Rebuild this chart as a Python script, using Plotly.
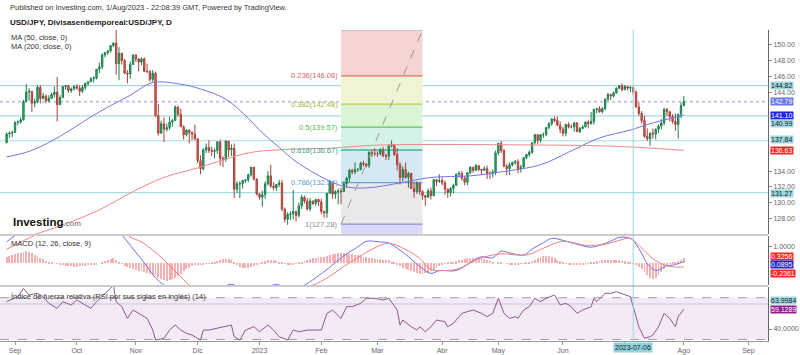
import pandas as pd
import plotly.graph_objects as go

# ------------------------------------------------------------------ data
start_date = "2022-08-29"
end_date = "2023-08-01"
axis_end_date = "2023-09-29"

# daily USD/JPY candles (Aug-29-2022 .. Aug-01-2023), one value per trading day
open_ = [
    137.6, 138.7, 138.8,
    138.9, 140.2, 140.2, 140.5, 142.8, 144.0, 144.1, 142.6, 142.8, 144.6, 143.2, 143.5, 142.9, 143.2, 143.7, 144.0, 142.4, 143.3, 144.7, 144.8, 144.2, 144.4,
    144.7, 144.5, 144.1, 144.6, 145.1, 145.3, 145.7, 145.8, 146.9, 147.2, 148.7, 149.0, 149.2, 149.9, 150.2, 147.6, 148.9, 148.0, 146.4, 146.3, 147.5,
    148.7, 148.2, 147.8, 148.2, 146.6, 146.6, 145.6, 146.4, 141.0, 138.8, 140.0, 139.3, 139.5, 140.2, 140.4, 142.1, 141.2, 139.6, 138.6, 139.2, 138.9, 138.7,
    138.1, 135.3, 134.3, 136.7, 137.0, 136.6, 136.5, 136.6, 137.7, 135.6, 135.5, 137.8, 136.7, 136.9, 131.7, 132.4, 132.4, 132.8, 132.9, 133.5, 134.5, 133.0,
    131.1, 130.7, 131.0, 132.4, 133.4, 132.1, 131.9, 132.3, 132.5, 129.2, 127.9, 128.5, 128.6, 128.9, 128.4, 129.6, 130.7, 130.2, 129.2, 130.2, 129.9, 130.4,
    130.1, 128.9, 128.7, 131.2, 132.6, 131.1, 131.4, 131.5, 131.4, 132.4, 133.1, 134.1, 133.9, 134.2, 134.2, 135.0, 134.9, 134.7, 136.4, 136.2,
    136.2, 136.2, 136.7, 135.9, 135.9, 137.2, 137.3, 136.1, 134.8, 133.2, 134.2, 133.2, 133.7, 131.8, 131.4, 132.5, 131.4, 130.9, 130.7, 131.5, 130.9, 132.9, 132.7,
    132.8, 132.5, 131.7, 131.3, 131.8, 132.2, 133.6, 133.7, 133.1, 132.6, 133.8, 134.5, 134.1, 134.7, 134.2, 134.1, 134.3, 133.7, 133.7, 133.9,
    136.3, 137.5, 136.6, 134.6, 134.3, 134.8, 135.1, 135.2, 134.3, 134.5, 135.7, 136.1, 136.4, 137.6, 138.6, 137.9, 138.6, 138.6, 139.5, 140.0, 140.6, 140.4, 139.8,
    139.3, 138.8, 139.9, 139.6, 139.6, 140.1, 139.0, 139.4, 139.6, 140.2, 140.0, 140.3, 141.8, 141.9, 141.5, 141.9, 143.1, 143.7, 143.5, 143.9, 144.5, 144.8,
    144.3, 144.7, 144.5, 144.6, 144.0, 142.1, 141.3, 140.4, 138.4, 138.1, 138.8, 138.7, 139.3, 139.7, 140.1, 141.8, 141.5, 140.9, 140.3, 139.9, 141.2,
    142.3,
]
high = [
    138.9, 139.0, 139.1,
    140.2, 140.4, 140.8, 143.0, 145.0, 144.5, 144.1, 143.2, 144.9, 144.9, 143.9, 143.7, 143.6, 143.9, 144.7, 145.9, 143.6, 144.8, 144.9, 144.9, 144.6, 144.9,
    145.0, 144.9, 144.9, 145.2, 145.4, 145.9, 146.0, 146.9, 147.7, 148.9, 149.1, 149.3, 149.9, 150.3, 151.9, 149.7, 149.0, 148.2, 146.8, 147.9, 148.8,
    148.8, 148.3, 148.4, 148.4, 147.6, 146.8, 146.8, 146.6, 142.5, 140.4, 140.8, 140.0, 140.9, 140.6, 142.3, 142.2, 141.9, 139.8, 139.3, 139.2, 139.0, 139.9,
    138.1, 136.0, 136.9, 137.5, 137.9, 137.1, 136.9, 137.8, 138.0, 135.9, 137.9, 137.8, 137.4, 137.5, 132.7, 132.7, 132.9, 133.0, 133.7, 134.5, 134.5, 133.1,
    131.2, 131.5, 132.7, 134.0, 134.8, 132.6, 132.4, 132.9, 132.9, 129.4, 128.8, 128.9, 131.6, 128.9, 130.0, 131.0, 130.9, 130.6, 130.6, 130.3, 130.5, 130.5,
    130.5, 129.0, 131.2, 132.9, 132.6, 131.6, 131.8, 131.9, 132.7, 133.3, 134.3, 134.3, 135.1, 134.4, 135.2, 135.3, 135.0, 136.5, 136.7, 136.9,
    136.5, 136.9, 137.1, 136.2, 137.4, 137.9, 137.4, 136.9, 135.1, 134.6, 135.1, 133.9, 133.8, 132.6, 132.7, 132.6, 131.6, 131.0, 131.8, 131.9, 133.0, 133.0, 133.6,
    133.2, 132.8, 131.8, 132.0, 132.4, 133.7, 134.0, 134.0, 133.4, 133.8, 134.6, 134.5, 134.9, 134.8, 134.3, 134.6, 134.7, 134.0, 134.2, 136.6,
    137.6, 137.8, 136.8, 134.9, 135.1, 135.2, 135.4, 135.5, 134.8, 135.8, 136.2, 136.6, 137.6, 138.7, 138.7, 138.7, 138.9, 139.6, 140.2, 140.7, 140.9, 140.9, 140.3,
    139.6, 140.0, 140.2, 139.9, 140.2, 140.2, 139.6, 139.8, 140.3, 140.5, 141.5, 141.9, 142.0, 142.2, 142.1, 143.2, 143.9, 143.7, 144.1, 144.6, 144.9, 145.1,
    144.9, 144.7, 144.7, 144.7, 144.2, 142.7, 141.6, 141.0, 139.4, 138.9, 139.4, 139.4, 139.9, 140.6, 142.0, 142.0, 141.6, 141.2, 141.3, 141.2, 142.7,
    143.5,
]
low = [
    137.5, 138.2, 138.3,
    138.9, 139.8, 140.0, 140.4, 142.8, 142.9, 141.5, 142.1, 142.6, 142.6, 143.1, 142.6, 142.7, 143.2, 143.3, 140.3, 142.4, 143.3, 144.3, 143.9, 143.9, 144.2,
    144.3, 143.5, 143.9, 144.3, 144.8, 145.3, 145.2, 145.6, 146.4, 146.9, 148.4, 148.7, 149.0, 149.7, 146.2, 145.5, 147.5, 146.3, 145.1, 145.7, 147.5,
    147.8, 146.6, 147.4, 146.6, 146.4, 145.3, 145.3, 140.9, 138.5, 138.8, 137.7, 139.0, 139.2, 139.6, 140.4, 140.9, 139.6, 138.0, 138.4, 137.5, 137.9, 137.9,
    135.0, 133.6, 134.1, 136.3, 136.3, 135.9, 135.6, 136.2, 134.7, 134.5, 135.2, 135.8, 135.9, 130.6, 131.2, 130.6, 131.8, 132.5, 132.6, 133.3, 132.8, 130.9,
    130.4, 129.5, 130.5, 132.2, 131.9, 131.6, 131.5, 132.0, 128.9, 127.5, 127.2, 127.8, 127.9, 127.6, 128.1, 129.2, 129.9, 129.0, 128.9, 129.7, 129.6, 129.6,
    128.5, 128.1, 128.1, 131.2, 130.5, 130.5, 129.8, 129.8, 131.4, 131.9, 132.6, 133.6, 133.6, 133.9, 134.1, 134.6, 134.5, 134.4, 135.8, 135.9,
    135.8, 136.0, 135.8, 135.4, 135.4, 137.0, 135.9, 134.1, 132.3, 132.7, 133.0, 131.9, 131.8, 130.6, 131.1, 131.0, 130.4, 129.6, 130.6, 130.4, 130.8, 132.1, 132.5,
    132.2, 131.0, 130.6, 130.8, 131.2, 132.1, 133.2, 132.8, 132.2, 132.2, 133.6, 133.8, 134.0, 134.0, 133.5, 134.1, 133.0, 133.0, 133.2, 133.5,
    136.0, 136.3, 134.5, 133.5, 133.5, 134.6, 134.8, 133.7, 133.8, 134.4, 135.5, 135.8, 136.2, 137.4, 137.4, 137.6, 138.2, 138.4, 139.3, 139.7, 140.2, 139.7, 138.8,
    138.4, 138.4, 139.4, 139.4, 139.0, 138.9, 138.8, 139.3, 139.5, 139.4, 139.9, 139.9, 141.3, 141.4, 141.3, 141.7, 142.9, 143.0, 143.3, 143.8, 144.4, 144.1,
    144.3, 144.2, 144.0, 143.6, 142.1, 141.0, 140.0, 138.2, 137.8, 137.2, 138.1, 138.0, 138.8, 139.3, 139.8, 141.0, 140.3, 140.0, 139.1, 138.1, 140.7,
    142.2,
]
close = [
    138.7, 138.8, 138.9,
    140.2, 140.2, 140.5, 142.8, 144.0, 144.1, 142.6, 142.8, 144.6, 143.2, 143.5, 142.9, 143.2, 143.7, 144.0, 142.4, 143.3, 144.7, 144.8, 144.2, 144.4, 144.7,
    144.5, 144.1, 144.6, 145.1, 145.3, 145.7, 145.8, 146.9, 147.2, 148.7, 149.0, 149.2, 149.9, 150.2, 147.6, 148.9, 148.0, 146.4, 146.3, 147.5, 148.7,
    148.2, 147.8, 148.2, 146.6, 146.6, 145.6, 146.4, 141.0, 138.8, 140.0, 139.3, 139.5, 140.2, 140.4, 142.1, 141.2, 139.6, 138.6, 139.2, 138.9, 138.7, 138.1,
    135.3, 134.3, 136.7, 137.0, 136.6, 136.5, 136.6, 137.7, 135.6, 135.5, 137.8, 136.7, 136.9, 131.7, 132.4, 132.4, 132.8, 132.9, 133.5, 134.5, 133.0, 131.1,
    130.7, 131.0, 132.4, 133.4, 132.1, 131.9, 132.3, 132.5, 129.2, 127.9, 128.5, 128.6, 128.9, 128.4, 129.6, 130.7, 130.2, 129.2, 130.2, 129.9, 130.4, 130.1,
    128.9, 128.7, 131.2, 132.6, 131.1, 131.4, 131.5, 131.4, 132.4, 133.1, 134.1, 133.9, 134.2, 134.2, 135.0, 134.9, 134.7, 136.4, 136.2, 136.2,
    136.2, 136.7, 135.9, 135.9, 137.2, 137.3, 136.1, 134.8, 133.2, 134.2, 133.2, 133.7, 131.8, 131.4, 132.5, 131.4, 130.9, 130.7, 131.5, 130.9, 132.9, 132.7, 132.8,
    132.5, 131.7, 131.3, 131.8, 132.2, 133.6, 133.7, 133.1, 132.6, 133.8, 134.5, 134.1, 134.7, 134.2, 134.1, 134.3, 133.7, 133.7, 133.9, 136.3,
    137.5, 136.6, 134.6, 134.3, 134.8, 135.1, 135.2, 134.3, 134.5, 135.7, 136.1, 136.4, 137.6, 138.6, 137.9, 138.6, 138.6, 139.5, 140.0, 140.6, 140.4, 139.8, 139.3,
    138.8, 139.9, 139.6, 139.6, 140.1, 139.0, 139.4, 139.6, 140.2, 140.0, 140.3, 141.8, 141.9, 141.5, 141.9, 143.1, 143.7, 143.5, 143.9, 144.5, 144.8, 144.3,
    144.7, 144.5, 144.6, 144.0, 142.1, 141.3, 140.4, 138.4, 138.1, 138.8, 138.7, 139.3, 139.7, 140.1, 141.8, 141.5, 140.9, 140.3, 139.9, 141.2, 142.3,
    142.79,
]

# moving averages (bar index, value)
ma50_bar = [0, 8, 17, 33, 44, 52, 62, 69, 78, 86, 90, 97, 103, 114, 121, 129, 140, 151, 165, 176, 190, 200, 211, 222, 229, 241]
ma50_val = [135.8, 136.5, 138.0, 141.5, 143.6, 145.2, 145.0, 144.4, 143.1, 140.7, 139.2, 137.0, 135.2, 132.9, 132.0, 131.9, 132.5, 133.2, 133.4, 133.9, 134.8, 136.4, 138.2, 139.2, 140.0, 141.10]
ma200_bar = [0, 11, 23, 33, 45, 56, 68, 86, 97, 115, 133, 190, 211, 225, 241]
ma200_val = [125.0, 126.1, 127.6, 129.1, 131.4, 133.2, 134.4, 136.3, 136.7, 136.9, 137.3, 137.3, 137.2, 137.0, 136.63]

# Fibonacci retracement (Oct-22 high -> Jan-23 low)
fib_start_bar = 119
fib_end_bar = 148
fib_levels = ["0", "0.236", "0.382", "0.5", "0.618", "0.786", "1"]
fib_prices = [151.86, 146.06, 142.48, 139.57, 136.67, 132.54, 127.28]

# horizontal reference lines
hlines = [144.82, 140.99, 137.84, 131.27]
last_price = 142.79
marked_bar = 223  # 2023-07-06

# MACD (12, 26, close, 9)
hist_val = [
    0.38, 0.45, 0.5, 0.55, 0.6, 0.65, 0.7, 0.72, 0.7, 0.62, 0.52, 0.42, 0.33, 0.25, 0.15, 0.08, 0.03, 0.0, -0.04, -0.08,
    -0.12, -0.15, -0.18, -0.2, -0.22, -0.22, -0.2, -0.18, -0.16, -0.14, -0.12, -0.1, -0.06, 0.0, 0.08, 0.15, 0.22, 0.28, 0.3, 0.2,
    0.08, -0.05, -0.15, -0.22, -0.3, -0.35, -0.4, -0.45, -0.5, -0.55, -0.6, -0.65, -0.72, -0.8, -0.92, -1.0, -1.05, -1.08, -1.05, -1.0,
    -0.9, -0.78, -0.65, -0.5, -0.38, -0.28, -0.2, -0.14, -0.1, -0.08, -0.06, -0.04, -0.02, 0.02, 0.08, 0.15, 0.2, 0.25, 0.28, 0.25,
    0.2, 0.05, -0.12, -0.22, -0.3, -0.32, -0.3, -0.26, -0.2, -0.12, -0.05, 0.05, 0.12, 0.18, 0.22, 0.2, 0.16, 0.1, 0.02, -0.05,
    -0.08, -0.08, -0.06, -0.03, 0.02, 0.08, 0.14, 0.2, 0.26, 0.3, 0.34, 0.36, 0.38, 0.4, 0.45, 0.5, 0.55, 0.58, 0.6, 0.62,
    0.62, 0.6, 0.58, 0.55, 0.52, 0.48, 0.45, 0.4, 0.36, 0.32, 0.3, 0.28, 0.26, 0.24, 0.22, 0.2, 0.18, 0.1, 0.02, -0.1,
    -0.2, -0.28, -0.36, -0.42, -0.48, -0.55, -0.6, -0.64, -0.64, -0.62, -0.58, -0.5, -0.42, -0.32, -0.2, -0.1, -0.04, 0.02, 0.05, 0.08,
    0.12, 0.18, 0.22, 0.26, 0.3, 0.32, 0.34, 0.34, 0.32, 0.3, 0.28, 0.22, 0.15, 0.06, 0.0, 0.02, 0.05, 0.0, -0.04, -0.08,
    -0.1, -0.1, -0.08, -0.05, -0.02, 0.02, 0.08, 0.15, 0.22, 0.3, 0.36, 0.42, 0.45, 0.44, 0.4, 0.32, 0.22, 0.12, 0.02, -0.05,
    -0.08, -0.1, -0.1, -0.1, -0.08, -0.08, -0.06, -0.04, 0.02, 0.08, 0.12, 0.15, 0.18, 0.2, 0.22, 0.22, 0.2, 0.2, 0.18, 0.15,
    0.12, 0.08, 0.04, -0.02, -0.1, -0.22, -0.38, -0.55, -0.75, -0.88, -0.95, -0.9, -0.75, -0.55, -0.35, -0.15, -0.02, 0.06, 0.1, 0.14,
    0.22, 0.3256,
]
macd_bar = [0, 5, 10, 15, 20, 25, 30, 35, 39, 41, 44, 47, 50, 53, 56, 60, 65, 70, 75, 80, 84, 90, 96, 100, 104, 106, 110, 115, 120, 125,
            128, 133, 136, 140, 143, 147, 151, 154, 160, 166, 169, 173, 176, 179, 184, 187, 191, 194, 198, 203, 208, 212, 215, 218, 222,
            224, 226, 228, 231, 235, 237, 241]
macd_val = [1.3, 1.9, 2.1, 2.0, 1.8, 1.75, 1.85, 2.15, 2.2, 1.75, 1.1, 0.45, -0.2, -0.9, -1.35, -1.8, -2.0, -1.9, -1.6, -1.3, -1.55, -1.7,
            -1.3, -1.55, -1.5, -1.35, -0.9, -0.25, 0.45, 1.0, 1.34, 1.3, 1.24, 0.8, 0.4, -0.2, -0.63, -0.45, -0.45, 0.15, 0.39, 0.33, 0.74,
            0.63, 0.5, 0.86, 1.25, 1.52, 1.4, 1.16, 0.98, 1.16, 1.35, 1.58, 1.52, 1.16, 0.6, -0.03, -0.45, -0.15, -0.12, 0.0895]
signal_bar = [0, 4, 8, 12, 20, 30, 38, 42, 44, 48, 52, 56, 60, 63, 65, 70, 80, 90, 100, 108, 115, 120, 125, 130, 136, 143, 147, 151, 156,
              161, 168, 176, 185, 191, 198, 206, 213, 218, 222, 226, 231, 236, 241]
signal_val = [0.85, 1.2, 1.55, 1.8, 1.9, 1.8, 1.95, 1.9, 1.6, 1.3, 0.8, 0.2, -0.5, -1.0, -1.35, -1.75, -1.65, -1.6, -1.5, -1.4, -0.8, -0.2,
              0.35, 0.85, 1.22, 0.74, 0.3, -0.39, -0.45, -0.33, 0.27, 0.57, 0.5, 0.92, 1.34, 1.1, 1.16, 1.4, 1.52, 0.92, 0.15, -0.2, -0.2361]

# RSI (14) (bar index, value)
rsi_bar = [0, 4, 6, 8, 11, 13, 15, 18, 20, 23, 25, 27, 30, 32, 34, 37, 38, 39, 41, 43, 45, 47, 50, 52, 53, 56, 58, 60, 62, 64, 66, 69,
           70, 72, 75, 77, 80, 81, 83, 85, 88, 90, 93, 95, 97, 100, 102, 104, 107, 112, 114, 116, 119, 121, 123, 126, 128, 131, 134, 136,
           139, 140, 141, 144, 146, 147, 149, 151, 153, 156, 157, 159, 162, 164, 166, 169, 171, 173, 175, 177, 179, 181, 182, 184, 186,
           188, 190, 192, 195, 197, 199, 201, 203, 205, 208, 209, 210, 213, 215, 217, 220, 222, 224, 225, 227, 229, 230, 232, 234, 236,
           238, 239, 241]
rsi_val = [66.2, 71.0, 79.0, 72.6, 74.2, 71.0, 64.6, 59.8, 66.2, 63.0, 67.8, 64.6, 59.8, 66.2, 71.0, 79.0, 82.0, 66.0, 61.4, 50.2, 58.2,
           55.0, 50.2, 39.0, 29.4, 31.0, 39.0, 43.8, 39.0, 35.8, 34.2, 29.4, 39.0, 39.0, 40.6, 42.2, 43.8, 32.6, 29.4, 39.0, 42.2, 37.4,
           43.8, 39.0, 32.6, 29.4, 39.0, 37.4, 39.0, 39.0, 55.0, 58.2, 50.2, 61.4, 61.4, 64.6, 69.4, 69.4, 67.8, 69.4, 58.2, 43.8, 48.6,
           42.2, 39.0, 42.2, 37.4, 42.2, 48.6, 47.0, 42.2, 45.4, 55.0, 56.6, 58.2, 55.0, 51.8, 55.0, 69.4, 55.0, 50.2, 51.8, 50.2, 58.2,
           61.4, 69.4, 66.2, 69.4, 72.6, 63.0, 64.6, 61.4, 55.0, 58.2, 61.4, 69.4, 66.2, 74.2, 74.2, 75.8, 72.6, 71.0, 51.8, 42.2, 31.0,
           32.6, 34.2, 42.2, 55.0, 50.2, 42.2, 51.8, 59.1289]
rsi_upper, rsi_lower, rsi_mark = 70, 30, 63.9984

# price-axis tick labels left visible in the picture (the rest sit under value tags)
price_ticks = [128, 130, 132, 134, 144, 146, 148, 150]

month_names = {1: "2023", 2: "Feb", 3: "Mar", 4: "Abr", 5: "May", 6: "Jun", 7: "",
               8: "Ago", 9: "Sep", 10: "Oct", 11: "Nov", 12: "Dic"}

# ------------------------------------------------------------------ helpers
W, H = 800, 355
FONT = "Liberation Sans, Arial, sans-serif"
dates = pd.bdate_range(start_date, end_date)
assert len(dates) == len(open_) == len(high) == len(low) == len(close) == len(hist_val)
bars = list(range(len(dates)))
axis_dates = pd.bdate_range(start_date, axis_end_date)
tickvals, ticktext = [], []
for i in range(1, len(axis_dates)):
    if axis_dates[i].month != axis_dates[i - 1].month:
        tickvals.append(i)
        ticktext.append(month_names[axis_dates[i].month])


def py(p):  # pixel row -> paper y
    return 1 - p / H


def px(p):  # pixel column -> paper x
    return p / W


PLOT_R = 768
X_RANGE = [-2.35, 270.96]
MAIN_RANGE = [126.04, 151.86]
MACD_RANGE = [-1.339, 1.667]
RSI_RANGE = [28.5, 80.26]

fig = go.Figure()

# candles
fig.add_trace(go.Candlestick(
    x=bars, open=open_, high=high, low=low, close=close,
    increasing=dict(line=dict(color="#1d7f4c", width=1), fillcolor="#2fb873"),
    decreasing=dict(line=dict(color="#a8423a", width=1), fillcolor="#e4675d"),
    whiskerwidth=0, xaxis="x", yaxis="y", showlegend=False, hoverinfo="skip"))
fig.add_trace(go.Scatter(x=ma50_bar, y=ma50_val, mode="lines", line=dict(color="#7474e6", width=1, shape="spline"),
                         xaxis="x", yaxis="y", showlegend=False, hoverinfo="skip"))
fig.add_trace(go.Scatter(x=ma200_bar, y=ma200_val, mode="lines", line=dict(color="#f08a8a", width=1, shape="spline"),
                         xaxis="x", yaxis="y", showlegend=False, hoverinfo="skip"))
# fib diagonal
fig.add_trace(go.Scatter(x=[fib_start_bar, fib_end_bar], y=[fib_prices[-1], fib_prices[0]], mode="lines",
                         line=dict(color="#9a9a9a", width=1, dash="dash"), xaxis="x", yaxis="y",
                         showlegend=False, hoverinfo="skip"))

# MACD
fig.add_trace(go.Bar(x=bars, y=hist_val, marker=dict(color="#f6b0b0", line=dict(width=0)), width=0.33,
                     xaxis="x", yaxis="y2", showlegend=False, hoverinfo="skip"))
fig.add_trace(go.Scatter(x=macd_bar, y=macd_val, mode="lines", line=dict(color="#6f6ff0", width=1, shape="spline"),
                         xaxis="x", yaxis="y2", showlegend=False, hoverinfo="skip"))
fig.add_trace(go.Scatter(x=signal_bar, y=signal_val, mode="lines", line=dict(color="#f08080", width=1, shape="spline"),
                         xaxis="x", yaxis="y2", showlegend=False, hoverinfo="skip"))

# RSI
fig.add_trace(go.Scatter(x=rsi_bar, y=rsi_val, mode="lines", line=dict(color="#8c5a8c", width=1),
                         xaxis="x", yaxis="y3", showlegend=False, hoverinfo="skip"))

shapes = []
fib_line_colors = ["#bdbdbd", "#e06b6b", "#c2cc45", "#5cc65c", "#45b39f", "#6aa6d8", "#8e8edb"]
fib_fill_colors = ["#f5d3d3", "#f1f4d4", "#d9f5d5", "#d4f2e6", "#d6e8f4", "#e9e9e9"]
for i in range(len(fib_prices) - 1):
    shapes.append(dict(type="rect", xref="x", yref="y", x0=fib_start_bar, x1=fib_end_bar,
                       y0=fib_prices[i + 1], y1=fib_prices[i], fillcolor=fib_fill_colors[i],
                       line=dict(width=0), layer="below"))
shapes.append(dict(type="rect", xref="x", yref="y", x0=fib_start_bar, x1=fib_end_bar,
                   y0=MAIN_RANGE[0], y1=fib_prices[-1], fillcolor="#dcd9f6", line=dict(width=0), layer="below"))
for i, p in enumerate(fib_prices):
    shapes.append(dict(type="line", xref="x", yref="y", x0=fib_start_bar, x1=fib_end_bar, y0=p, y1=p,
                       line=dict(color=fib_line_colors[i], width=1.3), layer="below"))
for p in hlines:
    shapes.append(dict(type="line", xref="paper", yref="y", x0=0, x1=px(PLOT_R), y0=p, y1=p,
                       line=dict(color="#a9dbe3", width=1.2), layer="below"))
shapes.append(dict(type="line", xref="paper", yref="y", x0=0, x1=px(PLOT_R), y0=last_price, y1=last_price,
                   line=dict(color="rgba(140,140,232,0.5)", width=2, dash="dot"), layer="below"))
# RSI band
shapes.append(dict(type="rect", xref="paper", yref="y3", x0=0, x1=px(PLOT_R), y0=rsi_lower, y1=rsi_upper,
                   fillcolor="#f3eaf6", line=dict(width=0), layer="below"))
for v in (rsi_upper, rsi_lower):
    shapes.append(dict(type="line", xref="paper", yref="y3", x0=0, x1=px(PLOT_R), y0=v, y1=v,
                       line=dict(color="#a0a0a0", width=1, dash="dash"), layer="below"))
shapes.append(dict(type="line", xref="paper", yref="y3", x0=0, x1=px(PLOT_R), y0=rsi_mark, y1=rsi_mark,
                   line=dict(color="#c4c8e4", width=1), layer="below"))
# vertical marker line
shapes.append(dict(type="line", xref="x", yref="paper", x0=marked_bar, x1=marked_bar, y0=py(341), y1=py(30),
                   line=dict(color="#9ad6df", width=1), layer="above"))
# pane separators
for p in (235, 286):
    shapes.append(dict(type="line", xref="paper", yref="paper", x0=0, x1=px(PLOT_R), y0=py(p), y1=py(p),
                       line=dict(color="#9a9a9a", width=1.2)))

ann = []


def text(x, y, t, size=7.5, color="#333", xanchor="left", bold=False, **kw):
    ann.append(dict(xref="paper", yref="paper", x=px(x), y=py(y), text=("<b>%s</b>" % t) if bold else t,
                    showarrow=False, xanchor=xanchor, yanchor="middle",
                    font=dict(family=FONT, size=size, color=color), **kw))


text(8, 8, "Published on Investing.com, 1/Aug/2023 - 22:08:39 GMT, Powered by TradingView.", size=7.5, color="#333")
text(8, 22, "USD/JPY, Divisasentiemporeal:USD/JPY, D", size=8, color="#222", bold=True)
text(9, 38, "MA (50, close, 0)", size=7.5, color="#333")
text(9, 46, "MA (200, close, 0)", size=7.5, color="#333")
text(9, 243, "MACD (12, 26, close, 9)", size=7.5, color="#333")
text(9, 296, "Índice de fuerza relativa (RSI por sus siglas en inglés) (14)", size=7.5, color="#333")
ann.append(dict(xref="paper", yref="paper", x=px(11), y=py(222), xanchor="left", yanchor="middle", showarrow=False,
                text="<b>Investing</b><span style='font-size:8px;color:#666'>.com</span>",
                font=dict(family=FONT, size=11.5, color="#111")))

# fib labels
fib_label_colors = ["#bbbbbb", "#d96666", "#a9b52c", "#4fbf4f", "#3aa595", "#5a9bd0", "#888888"]
for i, (lvl, p) in enumerate(zip(fib_levels, fib_prices)):
    if i == 0:
        continue
    ann.append(dict(xref="x", yref="y", x=fib_start_bar - 0.5, y=p, xanchor="right", yanchor="middle",
                    showarrow=False, text="%s(%.2f)" % (lvl, p),
                    font=dict(family=FONT, size=7.5, color=fib_label_colors[i])))


def price_label(ypix, t, bg, fg="#1a1a1a"):
    ann.append(dict(xref="paper", yref="paper", x=px(770), y=py(ypix), xanchor="left", yanchor="middle",
                    showarrow=False, text=t, bgcolor=bg, borderpad=0,
                    font=dict(family=FONT, size=7, color=fg)))


# axis-side value labels (positioned where the chart stacks them)
price_label(85.3, "144.82", "#9fd8df")
price_label(101.7, "142.79", "#6a78e0", "#ffffff")
price_label(115.0, "141.10", "#1f22e6", "#ffffff")
price_label(124.0, "140.99", "#9fd8df")
price_label(140.0, "137.84", "#9fd8df")
price_label(150.7, "136.63", "#ff2222", "#ffffff")
price_label(193.5, "131.27", "#9fd8df")
price_label(256.7, "0.3256", "#ff2626", "#ffffff")
price_label(264.3, "0.0895", "#1f22e6", "#ffffff")
price_label(273.3, "-0.2361", "#ff2626", "#ffffff")
price_label(300.7, "63.9984", "#9fd8df")
price_label(309.3, "59.1289", "#8e1f8e", "#ffffff")

# highlighted date on time axis
ann.append(dict(xref="x", yref="paper", x=marked_bar, y=py(347), xanchor="center", yanchor="middle",
                showarrow=False, text="2023-07-06", bgcolor="#8fd3dd", borderpad=1,
                font=dict(family=FONT, size=7, color="#1a1a1a")))

yaxis_common = dict(side="right", anchor="x", showgrid=False, zeroline=False, showline=True,
                    linecolor="#666", linewidth=1, ticks="outside", ticklen=3, tickcolor="#888",
                    tickfont=dict(family=FONT, size=7, color="#666"), fixedrange=True)

fig.update_layout(
    width=W, height=H, margin=dict(l=0, r=0, t=0, b=0),
    paper_bgcolor="white", plot_bgcolor="white",
    showlegend=False, bargap=0,
    xaxis=dict(domain=[0, px(PLOT_R)], range=X_RANGE, anchor="y3", showgrid=False, zeroline=False,
               showline=True, linecolor="#999", ticks="outside", ticklen=3, tickcolor="#999",
               tickvals=tickvals, ticktext=ticktext,
               tickfont=dict(family=FONT, size=7, color="#666"), rangeslider=dict(visible=False),
               fixedrange=True),
    yaxis=dict(domain=[py(234), py(30)], range=MAIN_RANGE, tickvals=price_ticks,
               ticktext=["%.2f" % v for v in price_ticks], **yaxis_common),
    yaxis2=dict(domain=[py(285), py(236)], range=MACD_RANGE, tickvals=[1.0], ticktext=["1.0000"], **yaxis_common),
    yaxis3=dict(domain=[py(341), py(287)], range=RSI_RANGE, tickvals=[40], ticktext=["40.0000"], **yaxis_common),
    shapes=shapes, annotations=ann,
)

fig.write_html("out.html")
